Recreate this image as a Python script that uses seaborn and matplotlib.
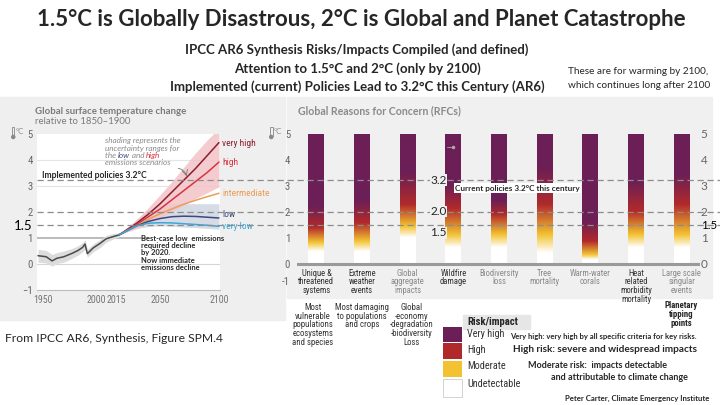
import numpy as np
import pandas as pd
import matplotlib
matplotlib.use("Agg")
import matplotlib.pyplot as plt
from matplotlib import font_manager
from matplotlib.patches import Rectangle, Ellipse
from matplotlib.transforms import ScaledTranslation
import seaborn as sns

###########################################################################
# Data
###########################################################################
# observed global surface temperature (deg C relative to 1850-1900)
hist_years = [1946, 1953, 1958, 1962, 1968, 1975, 1980, 1984, 1986, 1988, 1993, 1999, 2004, 2009, 2015]
hist_temp = [0.30, 0.26, 0.10, 0.20, 0.26, 0.39, 0.50, 0.62, 0.75, 0.38, 0.60, 0.78, 0.95, 1.02, 1.10]
hist_lo = [0.05, 0.02, -0.10, 0.00, 0.05, 0.20, 0.32, 0.45, 0.55, 0.25, 0.45, 0.62, 0.82, 0.92, 1.02]
hist_hi = [0.55, 0.50, 0.35, 0.42, 0.48, 0.58, 0.68, 0.80, 0.92, 0.55, 0.75, 0.92, 1.08, 1.15, 1.18]

# emissions scenarios
scen_years = [2015, 2020, 2030, 2040, 2050, 2060, 2070, 2080, 2090, 2100]
very_high = [1.10, 1.25, 1.55, 1.90, 2.30, 2.75, 3.20, 3.65, 4.15, 4.65]
high = [1.10, 1.23, 1.50, 1.80, 2.10, 2.45, 2.80, 3.15, 3.50, 3.90]
intermediate = [1.10, 1.22, 1.45, 1.70, 1.92, 2.10, 2.28, 2.43, 2.57, 2.70]
low = [1.10, 1.22, 1.45, 1.62, 1.73, 1.80, 1.82, 1.81, 1.78, 1.75]
very_low = [1.10, 1.22, 1.45, 1.55, 1.57, 1.56, 1.53, 1.50, 1.47, 1.43]
high_band_lo = [1.10, 1.18, 1.35, 1.55, 1.75, 2.00, 2.25, 2.50, 2.72, 2.95]
high_band_hi = [1.10, 1.30, 1.70, 2.15, 2.65, 3.15, 3.70, 4.25, 4.75, 5.20]
low_band_lo = [1.10, 1.20, 1.35, 1.42, 1.45, 1.43, 1.40, 1.38, 1.35, 1.32]
low_band_hi = [1.10, 1.30, 1.70, 2.05, 2.25, 2.30, 2.30, 2.30, 2.30, 2.30]
scen_names = ["very high", "high", "intermediate", "low", "very low"]
scen_label_y = [4.63, 3.90, 2.71, 1.87, 1.44]

# reference warming levels (dashed lines)
ref_levels = [3.2, 2.0, 1.5]

# Reasons for concern: warming where each risk level is reached
rfc_names = ["Unique &\nthreatened\nsystems", "Extreme\nweather\nevents", "Global\naggregate\nimpacts",
             "Wildfire\ndamage", "Biodiversity\nloss", "Tree\nmortality", "Warm-water\ncorals",
             "Heat\nrelated\nmorbidity\nmortality", "Large scale\nsingular\nevents"]
rfc_notes = ["Most\nvulnerable\npopulations\necosystems\nand species", "Most damaging\nto populations\nand crops",
             "Global\n-economy\n-degradation\n-biodiversity\nLoss", "", "", "", "", "", ""]
undetectable_top = [0.45, 0.45, 0.98, 0.60, 0.60, 0.40, 0.13, 0.60, 0.60]
moderate_mid = [0.80, 0.85, 1.42, 1.10, 1.10, 1.10, 0.33, 1.10, 1.10]
high_mid = [1.37, 1.55, 2.25, 2.10, 1.87, 2.25, 0.84, 2.00, 2.25]
very_high_from = [2.20, 2.40, 3.50, 3.00, 2.40, 3.67, 1.60, 3.15, 3.40]
risk_levels = ["Very high", "High", "Moderate", "Undetectable"]
###########################################################################

PURPLE, RED, YELLOW, WHITE = "#6c1f56", "#b12a2b", "#f2c232", "#ffffff"
scen_colors = ["#8c1d2e", "#d8343f", "#eb9c57", "#3b4a7d", "#3ba7da"]

sns.set_style("white")
plt.rcParams['font.family'] = ['Lato', 'DejaVu Sans']

fonts = font_manager.fontManager.ttflist
names = {f.name for f in fonts}
if 'Liberation Sans Narrow' in names:
    NARROW, NS = dict(family='Liberation Sans Narrow'), 1.0
elif 'Roboto Condensed' in names:
    NARROW, NS = dict(family='Roboto Condensed'), 0.95
elif any(f.name == 'DejaVu Sans' and f.stretch == 'condensed' for f in fonts):
    NARROW, NS = dict(family='DejaVu Sans', stretch='condensed'), 0.8
else:
    NARROW, NS = dict(family='Roboto'), 0.85

W, H = 720, 405
fig = plt.figure(figsize=(7.2, 4.05), dpi=100)


def fx(x):
    return x / W


def fy(y):
    return 1 - y / H


def ftext(x, y, s, **kw):
    return fig.text(fx(x), fy(y), s, **kw)


def frect(x0, y0, x1, y1, **kw):
    fig.add_artist(Rectangle((fx(x0), fy(y1)), (x1 - x0) / W, (y1 - y0) / H,
                             transform=fig.transFigure, **kw))


# panel backgrounds
frect(0, 97, 285, 320, color="#efefef", zorder=-2)
frect(287, 97, 712, 298, color="#f0f0f0", zorder=-2)

# vertical scale shared by both panels: 0 degC at 263.5 px, 26 px per degree
Y0, U = 263.5, 26.0
ax_bottom, ax_height = fy(Y0 + U), 6 * U / H

###########################################################################
# Left panel: global surface temperature change
###########################################################################
ax1 = fig.add_axes([fx(37), ax_bottom, 183 / W, ax_height])
ax1.set_facecolor("white")
ax1.fill_between(scen_years, low_band_lo, low_band_hi, color="#d6dbe6", lw=0)
ax1.fill_between(scen_years, high_band_lo, high_band_hi, color="#f3c3c7", lw=0, alpha=0.85)
ax1.fill_between(hist_years, hist_lo, hist_hi, color="#dcdcdc", lw=0)
for v, c in [(0, "#d5d5d5"), (3, "#e4e4e4"), (4, "#e4e4e4")]:
    ax1.axhline(v, color=c, lw=0.8, zorder=0.5)
ax1.axhline(1.0, xmax=0.6, color="#a8a8a8", lw=1.1, zorder=0.5)

hist = pd.DataFrame({"year": hist_years, "temp": hist_temp})
sns.lineplot(data=hist, x="year", y="temp", color="#4a4a4a", lw=1.1, ax=ax1)

scen = pd.DataFrame({
    "year": scen_years * len(scen_names),
    "temp": very_high + high + intermediate + low + very_low,
    "scenario": [n for n in scen_names for _ in scen_years],
})
sns.lineplot(data=scen, x="year", y="temp", hue="scenario", palette=dict(zip(scen_names, scen_colors)),
             lw=1.1, legend=False, ax=ax1)

for name, yv, c in zip(scen_names, scen_label_y, scen_colors):
    ax1.text(1.012, yv, name, transform=ax1.get_yaxis_transform(), color=c,
             fontsize=7.2 * NS, va="center", ha="left", **NARROW)

ax1.set_xlim(1945.15, 2100.9)
ax1.set_ylim(-1, 5)
ax1.set_xticks([1950, 2000, 2015, 2050, 2100])
ax1.set_xticks(range(1950, 2101, 10), minor=True)
ax1.set_yticks([-1, 0, 1, 1.5, 2, 3, 4, 5], labels=["\u22121", "0", "1", "1.5", "2", "3", "4", "5"])
ax1.tick_params(axis="x", which="both", direction="in", length=3, color="#aaaaaa",
                labelsize=7.6 * NS, labelcolor="#777777", pad=4)
ax1.tick_params(axis="y", length=0, labelsize=8.2 * NS, labelcolor="#666666", pad=3)
x_shift = {"2000": -4.8, "2015": -2.4}
for lab in ax1.get_xticklabels():
    lab.set(**NARROW)
    dx = x_shift.get(lab.get_text(), 0)
    lab.set_transform(lab.get_transform() + ScaledTranslation(dx / 100, 0, fig.dpi_scale_trans))
for lab in ax1.get_yticklabels():
    if lab.get_text() == "1.5":
        lab.set_color("black")
        lab.set_fontsize(9.5)
    else:
        lab.set(**NARROW)
for s in ["left", "top", "right"]:
    ax1.spines[s].set_visible(False)
ax1.spines["bottom"].set_color("#bbbbbb")
ax1.set_xlabel("")
ax1.set_ylabel("")

# shading note with coloured words
note_kw = dict(fontsize=5.9, style="italic", color="#8a8a8a", va="bottom", ha="left")
ax1.text(2003, 4.58, "shading represents the", **note_kw)
ax1.text(2003, 4.30, "uncertainty ranges for", **note_kw)
t = ax1.text(2003, 4.02, "the ", **note_kw)
t = ax1.annotate("low", xy=(1, 0), xycoords=t, **{**note_kw, "color": "#3b4a7d"})
t = ax1.annotate(" and ", xy=(1, 0), xycoords=t, **note_kw)
ax1.annotate("high", xy=(1, 0), xycoords=t, **{**note_kw, "color": "#d8343f"})
ax1.text(2003, 3.74, "emissions scenarios", **note_kw)
ax1.annotate("", xy=(2073, 3.25), xytext=(2063, 3.68),
             arrowprops=dict(arrowstyle="->", color="#777777", lw=0.6, connectionstyle="arc3,rad=-0.4"))

ax1.text(2033.7, 1.1, "Best-case low  emissions\nrequired decline\nby 2020.\nNow immediate\nemissions decline",
         fontsize=5.4, fontweight="bold", va="top", ha="left", linespacing=1.05)

ftext(35, 111, "Global surface temperature change", fontsize=6.9, fontweight="bold", color="#7a7a7a", va="center")
ftext(35, 122, "relative to 1850\u20131900", fontsize=6.9, color="#7a7a7a", va="center")
ftext(5, 338, "From IPCC AR6, Synthesis, Figure SPM.4", fontsize=8.75, va="center")

# little thermometer + degC marks
for x0 in (12, 270):
    frect(x0, 127, x0 + 2.5, 136, facecolor="none", edgecolor="#888888", lw=0.6)
    fig.add_artist(Ellipse((fx(x0 + 1.25), fy(137)), 4.5 / W, 4.5 / H, transform=fig.transFigure,
                           facecolor="#888888", edgecolor="none"))
    ftext(x0 + 4, 131, "\u00b0C", fontsize=5.5, color="#888888", va="center")

###########################################################################
# Right panel: reasons for concern
###########################################################################
# index 0 sits at 316.4 px, 45.65 px per category
ax2 = fig.add_axes([fx(297), ax_bottom, 403 / W, ax_height])
ax2.set_facecolor("none")
bar_w = 0.35
grid_t = np.linspace(0, 5, 500)
stop_cols = [matplotlib.colors.to_rgb(c) for c in [WHITE, WHITE, YELLOW, RED, PURPLE, PURPLE]]
for i in range(len(rfc_names)):
    stops = [0, undetectable_top[i], moderate_mid[i], high_mid[i], very_high_from[i], 5]
    rgb = np.column_stack([np.interp(grid_t, stops, [c[k] for c in stop_cols]) for k in range(3)])
    ax2.imshow(rgb[:, None, :], extent=[i - bar_w / 2, i + bar_w / 2, 0, 5], origin="lower",
               aspect="auto", interpolation="bilinear", zorder=2)
ax2.plot([2.86, 3.0], [4.48, 4.48], color="#aaaaaa", lw=0.6, zorder=3)
ax2.plot([3.0], [4.48], "o", ms=1.5, color="#aaaaaa", zorder=3)
ax2.axhline(0, color="#9a9a9a", lw=2.2, zorder=3)
ax2.set_xlim(-0.425, 8.403)
ax2.set_ylim(-1, 5)
ax2.set_xticks([])
ax2.set_yticks([-0.67, 0, 1, 2, 3, 4, 5], labels=["-1", "0", "1", "2", "3", "4", "5"])
ax2.tick_params(axis="y", length=0, labelsize=8.2 * NS, labelcolor="#666666", pad=5)
for lab in ax2.get_yticklabels():
    lab.set(**NARROW)
for s in ax2.spines.values():
    s.set_visible(False)

ax2r = ax2.twinx()
ax2r.set_ylim(-1, 5)
ax2r.set_yticks([0, 1, 1.5, 2, 3, 4, 5], labels=["0", "1", "1.5", "2", "3", "4", "5"])
ax2r.tick_params(axis="y", length=0, labelsize=8.5, labelcolor="#666666", pad=0.5)
for lab in ax2r.get_yticklabels():
    if lab.get_text() == "1.5":
        lab.set_color("black")
        lab.set_fontsize(8.3)
for s in ax2r.spines.values():
    s.set_visible(False)

label_colors = ["#333333", "#333333", "#8a8a8a", "#333333", "#8a8a8a", "#8a8a8a", "#8a8a8a", "#333333", "#8a8a8a"]
note_dx = [-0.08, 0.0, 0.09, 0, 0, 0, 0, 0, 0]
for i, (name, note, c) in enumerate(zip(rfc_names, rfc_notes, label_colors)):
    ax2.text(i, -0.2, name, ha="center", va="top", fontsize=6.5 * NS, color=c, linespacing=0.95, **NARROW)
    if note:
        ax2.text(i + note_dx[i], -1.52, note, ha="center", va="top", fontsize=6.6 * NS, color="#333333",
                 linespacing=0.95, clip_on=False, **NARROW)
ax2.text(8, -1.45, "Planetary\ntipping\npoints", ha="center", va="top", fontsize=6.6 * NS,
         fontweight="bold", linespacing=0.95, clip_on=False, **NARROW)

ftext(298, 111, "Global Reasons for Concern (RFCs)", fontsize=7.6, fontweight="bold", color="#8a8a8a", va="center")

###########################################################################
# Dashed warming levels across both panels
###########################################################################
axo = fig.add_axes([fx(37), ax_bottom, 683 / W, ax_height])
axo.set_ylim(-1, 5)
axo.set_xlim(0, 1)
axo.axis("off")
for v in ref_levels:
    axo.axhline(v, color="#8c8c8c", lw=0.9, ls=(0, (5, 3)))
tr = axo.get_yaxis_transform()
for yv, s in [(3.2, "3.2"), (2.0, "2.0"), (1.18, "1.5")]:
    axo.text(0.5755, yv, s, transform=tr, fontsize=8.5, va="center", ha="left",
             bbox=dict(facecolor="#f0f0f0", edgecolor="none", pad=0.3))
axo.text(0.612, 2.9, "Current policies 3.2\u00b0C this century", transform=tr, fontsize=5.9,
         fontweight="bold", va="center", ha="left", bbox=dict(facecolor="white", edgecolor="none", pad=0.8))
axo.text(0.0073, 3.37, "Implemented policies 3.2\u00b0C", transform=tr, fontsize=6.2,
         fontweight="bold", va="center", ha="left")

###########################################################################
# Risk legend and definitions
###########################################################################
frect(463, 315, 530, 329, color="#e6e6e6", zorder=-1)
ftext(467, 322, "Risk/impact", fontsize=8.2 * NS, fontweight="bold", va="center", **NARROW)
sw = [(327, 342, PURPLE), (343, 359, RED), (361, 377, YELLOW), (379, 397, WHITE)]
label_y = [334, 350, 366, 384]
for (y0, y1, c), lev, ly in zip(sw, risk_levels, label_y):
    frect(443, y0, 462, y1, facecolor=c, edgecolor="#cccccc" if c == WHITE else "none", lw=0.6)
    ftext(467, ly, lev, fontsize=7.8 * NS, color="#333333", va="center", **NARROW)

ftext(510, 336, "Very high: very high by all specific criteria for key risks.", fontsize=5.5,
      fontweight="bold", va="center")
ftext(513, 350, "High risk: severe and widespread impacts", fontsize=7.2, fontweight="bold", va="center")
ftext(528, 365, "Moderate risk:  impacts detectable", fontsize=6.5, fontweight="bold", va="center")
ftext(551, 377, "and attributable to climate change", fontsize=6.5, fontweight="bold", va="center")
ftext(565, 398, "Peter Carter, Climate Emergency Institute", fontsize=5.6, fontweight="bold", va="center")

###########################################################################
# Titles
###########################################################################
ftext(361, 20, "1.5\u00b0C is Globally Disastrous, 2\u00b0C is Global and Planet Catastrophe",
      fontsize=16.0, fontweight="bold", ha="center", va="center")
for y, s in [(50, "IPCC AR6 Synthesis Risks/Impacts Compiled (and defined)"),
             (69, "Attention to 1.5\u00b0C and 2\u00b0C (only by 2100)"),
             (87, "Implemented (current) Policies Lead to 3.2\u00b0C this Century (AR6)")]:
    ftext(357, y, s, fontsize=9.5, fontweight="bold", ha="center", va="center")
ftext(568, 72, "These are for warming by 2100,", fontsize=7.2, va="center")
ftext(568, 85, "which continues long after 2100", fontsize=7.2, va="center")

fig.savefig("out.png", dpi=100)
